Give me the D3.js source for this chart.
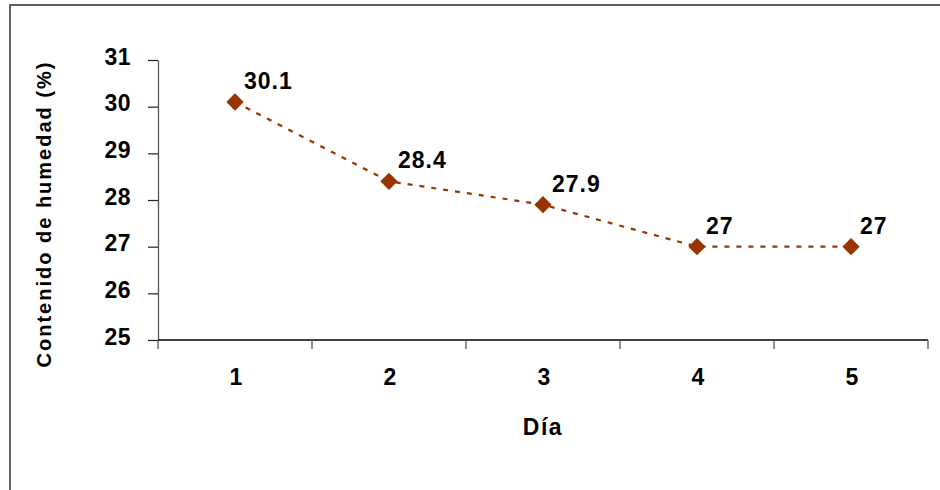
<!DOCTYPE html>
<html>
<head>
<meta charset="utf-8">
<script src="https://cdn.jsdelivr.net/npm/d3@7"></script>
<style>
  html, body { margin: 0; padding: 0; background: #fff; }
  svg { display: block; font-family: "Liberation Sans", Arial, sans-serif; }
</style>
</head>
<body>
<svg id="chart" width="940" height="490"></svg>
<script>
// Moisture content by day
const days = ["1", "2", "3", "4", "5"];
const humedad = [30.1, 28.4, 27.9, 27, 27];
const yTicks = [25, 26, 27, 28, 29, 30, 31];
const xTitle = "Día";
const yTitle = "Contenido de humedad (%)";

const svg = d3.select("#chart");
const plot = { left: 158, right: 928, top: 60, bottom: 340 };
const lineColor = "#993300";

// outer frame (only top and left edges fall inside the view)
svg.append("rect")
  .attr("x", 10).attr("y", 5)
  .attr("width", 960).attr("height", 520)
  .attr("fill", "none")
  .attr("stroke", "#3a3a3a")
  .attr("stroke-width", 1.6);

const x = d3.scaleBand().domain(days).range([plot.left, plot.right]);
const y = d3.scaleLinear().domain([25, 31]).range([plot.bottom, plot.top]);
const cx = d => x(d) + x.bandwidth() / 2;

// y axis
const yAxis = svg.append("g")
  .attr("transform", `translate(${plot.left},0)`)
  .call(d3.axisLeft(y).tickValues(yTicks).tickFormat(d3.format("d"))
    .tickSize(10).tickPadding(17).tickSizeOuter(0));
yAxis.select(".domain").attr("stroke", "#555").attr("stroke-width", 1.3);
yAxis.selectAll(".tick line").attr("stroke", "#222").attr("stroke-width", 1.2);
yAxis.selectAll(".tick text")
  .attr("fill", "#000")
  .attr("font-size", 23)
  .attr("font-weight", "bold")
  .attr("letter-spacing", "0.5px")
  .attr("dy", "0.18em");

// x axis: baseline plus ticks at category boundaries
const xAxis = svg.append("g");
xAxis.append("line")
  .attr("x1", plot.left).attr("x2", plot.right)
  .attr("y1", y(25)).attr("y2", y(25))
  .attr("stroke", "#000").attr("stroke-width", 1.3);
const bounds = days.map(d => x(d)).concat([x(days[days.length - 1]) + x.bandwidth()]);
xAxis.selectAll("line.tk").data(bounds).join("line")
  .attr("class", "tk")
  .attr("x1", d => d).attr("x2", d => d)
  .attr("y1", y(25)).attr("y2", y(25) + 9)
  .attr("stroke", "#555").attr("stroke-width", 1.3);
xAxis.selectAll("text").data(days).join("text")
  .attr("x", d => cx(d) + 1)
  .attr("y", y(25) + 45)
  .attr("text-anchor", "middle")
  .attr("font-size", 23)
  .attr("font-weight", "bold")
  .text(d => d);

// axis titles
svg.append("text")
  .attr("x", 543).attr("y", 435)
  .attr("text-anchor", "middle")
  .attr("font-size", 23)
  .attr("font-weight", "bold")
  .attr("letter-spacing", "1.5px")
  .text(xTitle);

svg.append("text")
  .attr("transform", "translate(51,214) rotate(-90)")
  .attr("text-anchor", "middle")
  .attr("font-size", 20)
  .attr("font-weight", "bold")
  .attr("letter-spacing", "2px")
  .text(yTitle);

// series line
const pts = days.map((d, i) => ({ d, v: humedad[i] }));
svg.append("path")
  .datum(pts)
  .attr("fill", "none")
  .attr("stroke", lineColor)
  .attr("stroke-width", 2.2)
  .attr("stroke-dasharray", "5,7")
  .attr("d", d3.line().x(p => cx(p.d)).y(p => y(p.v)));

// diamond markers
svg.selectAll("path.mk").data(pts).join("path")
  .attr("class", "mk")
  .attr("d", d3.symbol().type(d3.symbolSquare).size(150))
  .attr("transform", p => `translate(${cx(p.d)},${y(p.v)}) rotate(45)`)
  .attr("fill", lineColor);

// value labels
svg.selectAll("text.lbl").data(pts).join("text")
  .attr("class", "lbl")
  .attr("x", p => cx(p.d) + 9)
  .attr("y", p => y(p.v) - 13)
  .attr("font-size", 23)
  .attr("font-weight", "bold")
  .attr("letter-spacing", "1px")
  .text(p => String(p.v));
</script>
</body>
</html>
